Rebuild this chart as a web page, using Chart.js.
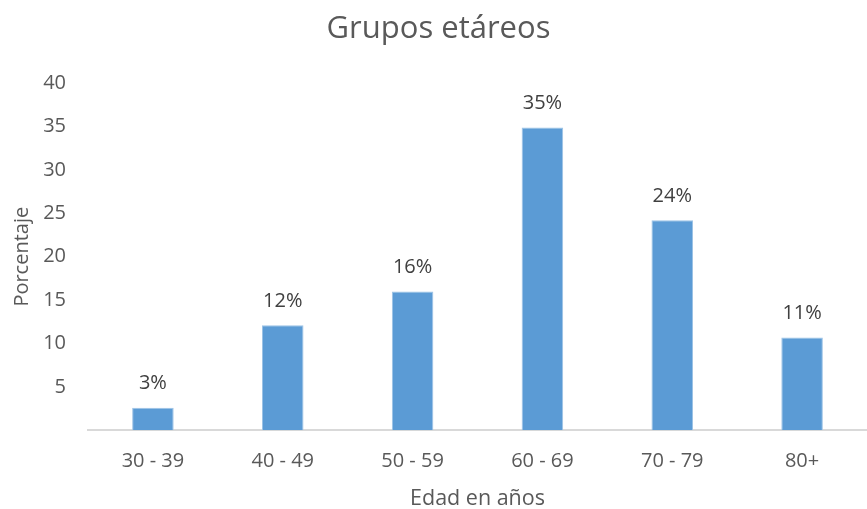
<!DOCTYPE html>
<html>
<head>
<meta charset="utf-8">
<script src="https://cdn.jsdelivr.net/npm/chart.js@4"></script>
<style>
  html, body { margin: 0; padding: 0; background: #fff; overflow: hidden; }
  #wrap { width: 867px; height: 509px; }
</style>
</head>
<body>
<div id="wrap"><canvas id="edadChart"></canvas></div>
<script>
const grupos = ['30 - 39', '40 - 49', '50 - 59', '60 - 69', '70 - 79', '80+'];
const porcentajes = [2.6, 12.1, 16.0, 34.9, 24.2, 10.7];
const yTicks = [0, 5, 10, 15, 20, 25, 30, 35, 40];

const FONT = "'Open Sans', sans-serif";
const TEXT = '#595959';

// etiquetas de porcentaje encima de cada barra
const barLabels = {
    id: 'barLabels',
    afterDatasetsDraw(chart) {
        const ctx = chart.ctx;
        const meta = chart.getDatasetMeta(0);
        ctx.save();
        ctx.font = '20px ' + FONT;
        ctx.fillStyle = '#404040';
        ctx.textAlign = 'center';
        ctx.textBaseline = 'middle';
        meta.data.forEach((bar, i) => {
            const v = chart.data.datasets[0].data[i];
            ctx.fillText(Math.round(v) + '%', bar.x, bar.y - 24);
        });
        ctx.restore();
    }
};

document.addEventListener('DOMContentLoaded', () => {
    const ctx = document.getElementById('edadChart').getContext('2d');

    new Chart(ctx, {
        type: 'bar',
        data: {
            labels: grupos,
            datasets: [{
                label: 'Porcentaje',
                data: porcentajes,
                backgroundColor: '#5B9BD5',
                borderColor: '#9DC3E6',
                borderWidth: { top: 1, left: 1, right: 1, bottom: 0 },
                categoryPercentage: 1,
                barPercentage: 0.32
            }]
        },
        options: {
            responsive: true,
            maintainAspectRatio: false,
            animation: false,
            // el área de trazado sigue un poco más allá del borde derecho
            layout: { padding: { left: 0, right: -10, top: 11, bottom: -3 } },
            plugins: {
                legend: { display: false },
                tooltip: { enabled: false },
                title: {
                    display: true,
                    text: 'Grupos etáreos',
                    color: TEXT,
                    font: { family: FONT, size: 31, weight: 'normal' },
                    padding: { top: 0, bottom: 35 }
                }
            },
            scales: {
                x: {
                    grid: { display: false },
                    border: { display: true, color: '#D9D9D9', width: 2 },
                    ticks: {
                        color: TEXT,
                        font: { family: FONT, size: 20 },
                        padding: 11
                    },
                    title: {
                        display: true,
                        text: 'Edad en años',
                        color: TEXT,
                        font: { family: FONT, size: 21.5 },
                        padding: { top: 2, bottom: 0 }
                    }
                },
                y: {
                    min: 0,
                    max: 40,
                    afterBuildTicks(scale) {
                        scale.ticks = yTicks.map(v => ({ value: v }));
                    },
                    afterFit(scale) { scale.width = 88; },
                    grid: { display: false },
                    border: { display: false },
                    ticks: {
                        color: TEXT,
                        font: { family: FONT, size: 20 },
                        padding: 14,
                        callback: v => (v === 0 ? '' : v)
                    },
                    title: {
                        display: true,
                        text: 'Porcentaje',
                        color: TEXT,
                        font: { family: FONT, size: 20 },
                        padding: { top: 10, bottom: 0 }
                    }
                }
            }
        },
        plugins: [barLabels]
    });
});
</script>
</body>
</html>
